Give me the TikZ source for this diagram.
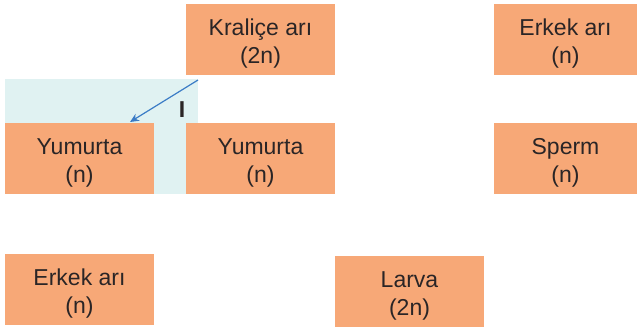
\documentclass[tikz,border=0pt]{standalone}
\usepackage{fontspec}
\setmainfont{Liberation Sans}
\usetikzlibrary{arrows.meta}
\definecolor{boxfill}{HTML}{F7A877}
\definecolor{bluebg}{HTML}{E0F2F2}
\definecolor{arrowblue}{HTML}{3B7CC6}
\definecolor{txt}{HTML}{2A2526}
\newcommand\topfix{\rule{0pt}{25pt}}
\tikzset{
  stage/.style={rectangle, fill=boxfill, draw=none, inner sep=0pt,
    minimum width=149pt, minimum height=71pt, align=center, text=txt,
    font=\fontsize{23}{28}\selectfont},
  lbl/.style={text=txt, inner sep=0pt, font=\fontsize{23}{28}\selectfont\bfseries},
  link/.style={draw=arrowblue, line width=1.2pt, -{Stealth[length=9pt,width=8pt]}}
}
\begin{document}
\begin{tikzpicture}[x=1pt,y=-1pt]
\useasboundingbox (0,0) rectangle (637,327);
\fill[bluebg] (5,79) rectangle (198,194);
\node[stage] (queen) at (260.5,39) {\topfix Kraliçe arı\\(2n)};
\node[stage] (egg1) at (79.5,158) {\topfix Yumurta\\(n)};
\node[stage] (egg2) at (260.5,158) {\topfix Yumurta\\(n)};
\node[stage, minimum width=143pt] (male1) at (565.5,39) {\topfix Erkek arı\\(n)};
\node[stage, minimum width=143pt] (sperm) at (565.5,158.5) {\topfix Sperm\\(n)};
\node[stage] (male2) at (79.5,289.5) {\topfix Erkek arı\\(n)};
\node[stage] (larva) at (409.5,291) {\topfix Larva\\(2n)};
\coordinate (s) at (198,80);
\coordinate (e) at (130,122);
\draw[link] (s) -- (e);
\node[lbl] (roman) at (182,110) {I};
\end{tikzpicture}
\end{document}
